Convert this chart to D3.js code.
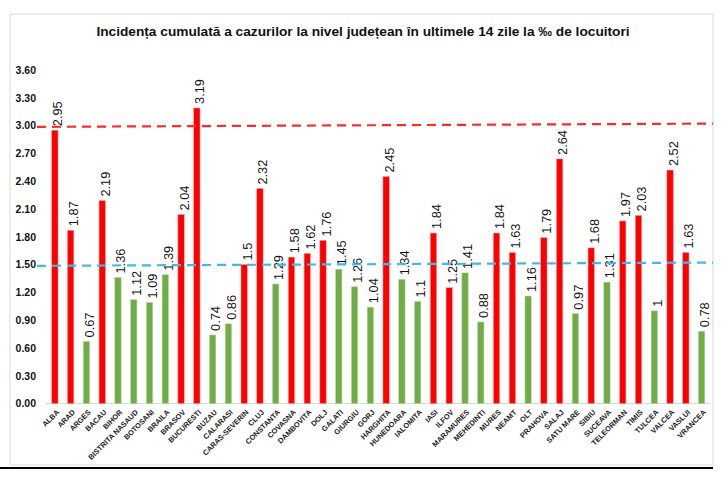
<!DOCTYPE html>
<html>
<head>
<meta charset="utf-8">
<script src="https://cdn.jsdelivr.net/npm/d3@7"></script>
<style>
  body { margin: 0; background: #fff; }
  svg { display: block; }
</style>
</head>
<body>
<div id="chart"></div>
<script>
var counties = ["ALBA", "ARAD", "ARGES", "BACAU", "BIHOR", "BISTRITA NASAUD", "BOTOSANI", "BRAILA",
    "BRASOV", "BUCURESTI", "BUZAU", "CALARASI", "CARAS-SEVERIN", "CLUJ", "CONSTANTA", "COVASNA",
    "DAMBOVITA", "DOLJ", "GALATI", "GIURGIU", "GORJ", "HARGHITA", "HUNEDOARA", "IALOMITA", "IASI",
    "ILFOV", "MARAMURES", "MEHEDINTI", "MURES", "NEAMT", "OLT", "PRAHOVA", "SALAJ", "SATU MARE",
    "SIBIU", "SUCEAVA", "TELEORMAN", "TIMIS", "TULCEA", "VALCEA", "VASLUI", "VRANCEA"];
var incidence = [2.95, 1.87, 0.67, 2.19, 1.36, 1.12, 1.09, 1.39, 2.04, 3.19, 0.74, 0.86, 1.5, 2.32,
    1.29, 1.58, 1.62, 1.76, 1.45, 1.26, 1.04, 2.45, 1.34, 1.1, 1.84, 1.25, 1.41, 0.88, 1.84, 1.63,
    1.16, 1.79, 2.64, 0.97, 1.68, 1.31, 1.97, 2.03, 1, 2.52, 1.63, 0.78];
// counties drawn red in the original
var redCounties = ["ALBA", "ARAD", "BACAU", "BRASOV", "BUCURESTI", "CARAS-SEVERIN", "CLUJ", "COVASNA",
    "DAMBOVITA", "DOLJ", "HARGHITA", "IASI", "ILFOV", "MURES", "NEAMT", "PRAHOVA", "SALAJ", "SIBIU",
    "TELEORMAN", "TIMIS", "VALCEA", "VASLUI"];
var yTicks = [0, 0.3, 0.6, 0.9, 1.2, 1.5, 1.8, 2.1, 2.4, 2.7, 3.0, 3.3, 3.6];
var thresholds = [3.0, 1.5];

var WIDTH = 726, HEIGHT = 477;
var title = "Incidența cumulată a cazurilor la nivel județean în ultimele 14 zile la ‰ de locuitori";

var svg = d3.select("#chart").append("svg")
    .attr("width", WIDTH)
    .attr("height", HEIGHT);

// chart frame
svg.append("rect")
    .attr("x", 10).attr("y", 14)
    .attr("width", 703).attr("height", 451)
    .attr("fill", "#fff")
    .attr("stroke", "#d9d9d9")
    .attr("stroke-width", 1);
svg.append("line")
    .attr("x1", 0).attr("x2", 713)
    .attr("y1", 468).attr("y2", 468)
    .attr("stroke", "#000")
    .attr("stroke-width", 2);

svg.append("text")
    .attr("x", 363).attr("y", 36)
    .attr("text-anchor", "middle")
    .attr("font-family", "Liberation Sans, Arial, sans-serif")
    .attr("font-weight", "bold")
    .attr("font-size", 13.7)
    .attr("fill", "#111")
    .text(title);

var x = d3.scaleBand()
    .domain(counties)
    .range([47, 709.5])
    .paddingInner(0.6)
    .paddingOuter(0.3);

var y = d3.scaleLinear()
    .domain([0, 3.6])
    .range([403.5, 70]);

var data = counties.map(function (c, i) {
    return { name: c, value: incidence[i], red: redCounties.indexOf(c) >= 0 };
});

// y axis labels
var yAxis = svg.append("g")
    .attr("transform", "translate(40,0)")
    .call(d3.axisLeft(y).tickValues(yTicks).tickFormat(d3.format(".2f")).tickSize(0).tickPadding(4));
yAxis.select(".domain").remove();
yAxis.selectAll("text")
    .attr("font-family", "Liberation Sans, Arial, sans-serif")
    .attr("font-weight", "bold")
    .attr("font-size", 10.5)
    .attr("fill", "#111");

// baseline
svg.append("line")
    .attr("x1", 46).attr("x2", 710)
    .attr("y1", y(0)).attr("y2", y(0))
    .attr("stroke", "#d9d9d9")
    .attr("stroke-width", 1);

// bars
svg.append("g").selectAll("rect")
    .data(data)
    .enter().append("rect")
    .attr("x", function (d) { return x(d.name); })
    .attr("y", function (d) { return y(d.value); })
    .attr("width", x.bandwidth())
    .attr("height", function (d) { return y(0) - y(d.value); })
    .attr("fill", function (d) { return d.red ? "#ff0000" : "#70ad47"; })
    .attr("stroke", function (d) { return d.red ? "#ff9a9a" : "#b5d5a0"; })
    .attr("stroke-width", 0.5);

// value labels
svg.append("g").selectAll("text")
    .data(data)
    .enter().append("text")
    .attr("transform", function (d) {
        return "translate(" + (x(d.name) + x.bandwidth() / 2 + 3) + "," + (y(d.value) - 4) + ")rotate(-90)";
    })
    .attr("dy", "0.35em")
    .attr("font-family", "Liberation Sans, Arial, sans-serif")
    .attr("font-size", 12.8)
    .attr("fill", "#111")
    .text(function (d) { return String(d.value); });

// threshold lines (slightly tilted as in the original)
var lineColors = ["#ff2a2a", "#3dbbf0"];
svg.append("g").selectAll("line")
    .data(thresholds)
    .enter().append("line")
    .attr("x1", 37).attr("x2", 713)
    .attr("y1", function (d) { return y(d) + 1.3; })
    .attr("y2", function (d) { return y(d) - 2; })
    .attr("stroke", function (d, i) { return lineColors[i]; })
    .attr("stroke-width", 2.2)
    .attr("stroke-dasharray", "9,6");

// category labels
svg.append("g").selectAll("text")
    .data(data)
    .enter().append("text")
    .attr("transform", function (d) {
        return "translate(" + (x(d.name) + x.bandwidth() / 2 + 3) + ",411)rotate(-45)";
    })
    .attr("text-anchor", "end")
    .attr("dy", "0.35em")
    .attr("font-family", "Liberation Sans Narrow, Liberation Sans, Arial, sans-serif")
    .attr("font-weight", "bold")
    .attr("font-size", 7.4)
    .attr("fill", "#222")
    .text(function (d) { return d.name; });
</script>
</body>
</html>
